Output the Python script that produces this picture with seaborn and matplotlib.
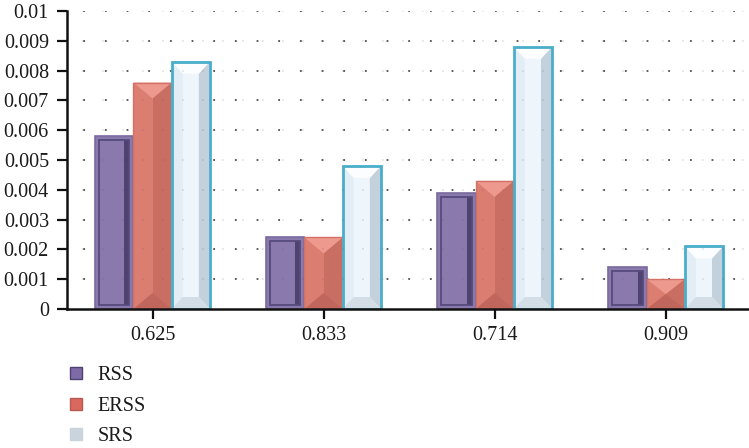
import numpy as np
import pandas as pd
import matplotlib
matplotlib.use("Agg")
import matplotlib.pyplot as plt
import seaborn as sns
from matplotlib.patches import Polygon
from matplotlib.lines import Line2D

# Data
categories = ["0.625", "0.833", "0.714", "0.909"]
series = ["RSS", "ERSS", "SRS"]
rss = [0.0058, 0.0024, 0.0039, 0.0014]
erss = [0.0076, 0.0024, 0.0043, 0.0010]
srs = [0.0083, 0.0048, 0.0088, 0.0021]
y_ticks = [0, 0.001, 0.002, 0.003, 0.004, 0.005, 0.006, 0.007, 0.008, 0.009, 0.01]
y_tick_labels = ["0", "0.001", "0.002", "0.003", "0.004", "0.005",
                 "0.006", "0.007", "0.008", "0.009", "0.01"]

df = pd.DataFrame({
    "cat": np.repeat(categories, len(series)),
    "series": series * len(categories),
    "value": np.ravel(np.column_stack([rss, erss, srs])),
})

face = {"RSS": "#8a79ad", "ERSS": "#d97b6f", "SRS": "#eef5fb"}
edge = {"RSS": "#7a6a9e", "ERSS": "#d27266", "SRS": "#4aaecb"}

sns.set_theme(style="white")
plt.rcParams["font.family"] = ["Liberation Serif", "DejaVu Serif"]

fig = plt.figure(figsize=(7.49, 4.48), dpi=100)
ax = fig.add_axes([67 / 749, 1 - 309 / 448, 1 - 67 / 749 + 0.003, (309 - 11) / 448])

sns.barplot(data=df, x="cat", y="value", hue="series", order=categories,
            hue_order=series, palette=face, width=0.67, saturation=1,
            legend=False, ax=ax, zorder=3)

ax.set_ylim(0, 0.01)
ax.set_xlim(-0.5, 3.5)
ax.set_yticks(y_ticks)
ax.set_yticklabels(y_tick_labels)
ax.set_xlabel("")
ax.set_ylabel("")

# dotted horizontal grid (behind bars, and faintly over them)
for t in y_ticks[1:]:
    ax.axhline(t, color="#4d4d4d", lw=1.3, ls=(3, (1, 11)), zorder=1)
    ax.axhline(t, color="#555555", lw=1.2, ls=(3, (1, 11)), alpha=0.18, zorder=5)

for s in ["top", "right"]:
    ax.spines[s].set_visible(False)
for s in ["left", "bottom"]:
    ax.spines[s].set_color("#111111")
    ax.spines[s].set_linewidth(1.8)
    ax.spines[s].set_zorder(6)
ax.tick_params(axis="y", direction="out", length=7, width=1.6, color="#111111",
               labelsize=14.5, pad=6, left=True, labelcolor="#1a1a1a")
ax.tick_params(axis="x", direction="out", length=7, width=1.6, color="#111111",
               labelsize=14.5, pad=5, bottom=True, labelcolor="#1a1a1a")

# bevelled look for every bar, built from the bar geometry
fig.canvas.draw()
to_disp = ax.transData
to_data = ax.transData.inverted()


def poly(pts, color, z, **kw):
    ax.add_patch(Polygon(to_data.transform(pts), closed=True, facecolor=color,
                         edgecolor="none", zorder=z, **kw))


bars = list(ax.patches)
for i, p in enumerate(bars):
    s = series[i // len(categories)]
    x0, y0 = p.get_x(), p.get_y()
    w, h = p.get_width(), p.get_height()
    px0, py0 = to_disp.transform((x0, y0))
    px1, py1 = to_disp.transform((x0 + w, y0 + h))
    bw, bh = px1 - px0, py1 - py0
    p.set_facecolor("none")
    p.set_edgecolor(edge[s])
    p.set_zorder(4.5)
    if s == "RSS":
        p.set_linewidth(1.2)
        poly([(px0, py0), (px1, py0), (px1, py1), (px0, py1)], face[s], 3.2)
        k = min(4, bh / 3)
        inner = [(px0 + k, py0 + k), (px1 - k, py0 + k),
                 (px1 - k, py1 - k), (px0 + k, py1 - k)]
        # dark strip along the right inner edge
        poly([(px1 - k - 5, py0 + k), (px1 - k, py0 + k),
              (px1 - k, py1 - k), (px1 - k - 5, py1 - k)], "#4d4270", 3.4)
        ax.add_patch(Polygon(to_data.transform(inner), closed=True,
                             facecolor="none", edgecolor="#574a7c", lw=1.3,
                             zorder=3.5))
    elif s == "ERSS":
        p.set_linewidth(1.0)
        mid = (px0 + px1) / 2
        d = min(16, bh / 2)
        # left and right halves of the face
        poly([(px0, py0), (mid, py0), (mid, py1), (px0, py1)], "#db7d71", 3.2)
        poly([(mid, py0), (px1, py0), (px1, py1), (mid, py1)], "#c96e63", 3.2)
        # top and bottom pyramids
        poly([(px0, py1), (px1, py1), (mid, py1 - d)], "#ee998e", 3.4)
        poly([(px0, py0), (px1, py0), (mid, py0 + d)], "#c0665c", 3.4)
    else:
        p.set_linewidth(2.0)
        k = min(12, bh / 2)
        kx = min(11, bw / 3)
        outer = [(px0, py0), (px1, py0), (px1, py1), (px0, py1)]
        inner = [(px0 + kx, py0 + k), (px1 - kx, py0 + k),
                 (px1 - kx, py1 - k), (px0 + kx, py1 - k)]
        poly(outer, "#eef5fb", 3.2)
        poly([outer[0], outer[3], inner[3], inner[0]], "#e2edf6", 3.4)
        poly([outer[1], outer[2], inner[2], inner[1]], "#c3d1dc", 3.4)
        poly([outer[3], outer[2], inner[2], inner[3]], "#fbfdff", 3.5)
        poly([outer[0], outer[1], inner[1], inner[0]], "#d2dde6", 3.5)

# legend below the axes
leg_face = {"RSS": "#7d6aa6", "ERSS": "#d9685f", "SRS": "#c9d4dc"}
leg_edge = {"RSS": "#4e4272", "ERSS": "#b85a52", "SRS": "#c9d4dc"}
handles = [
    Line2D([0], [0], marker="s", ls="", markersize=8.5,
           markerfacecolor=leg_face[s], markeredgecolor=leg_edge[s],
           markeredgewidth=1.0)
    for s in series
]
fig.legend(handles, series, loc="center left",
           bbox_to_anchor=(66 / 749, 1 - 406 / 448), frameon=False,
           fontsize=14.5, handletextpad=0.58, labelspacing=0.56,
           handlelength=0.97, borderpad=0, borderaxespad=0, labelcolor="#1a1a1a")

fig.savefig("out.png", dpi=100)
